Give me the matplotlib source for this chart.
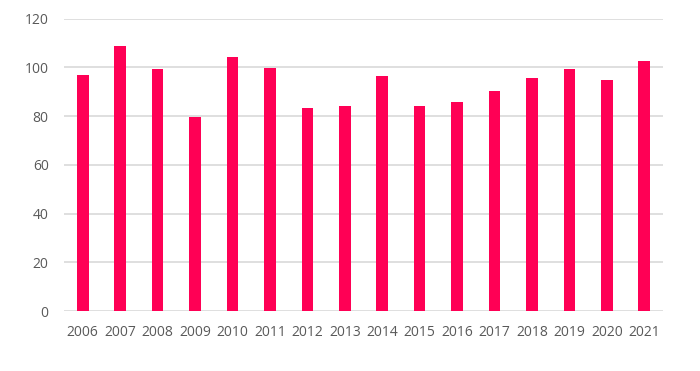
import matplotlib
matplotlib.use("Agg")
import matplotlib.pyplot as plt

years = ["2006", "2007", "2008", "2009", "2010", "2011", "2012", "2013",
         "2014", "2015", "2016", "2017", "2018", "2019", "2020", "2021"]
values = [97.0, 108.7, 99.4, 79.8, 104.2, 99.9, 83.4, 84.2,
          96.6, 84.2, 85.7, 90.5, 95.7, 99.3, 94.9, 102.8]
y_ticks = [0, 20, 40, 60, 80, 100, 120]

plt.rcParams["font.family"] = ["Open Sans", "DejaVu Sans"]

fig = plt.figure(figsize=(7, 3.71), dpi=100)
ax = fig.add_axes([0.0914, 0.1617, 0.8557, 0.7879])

x = range(len(years))
ax.bar(x, values, width=0.31, color="#FF0055", zorder=3)

ax.set_xlim(-0.5, len(years) - 0.5)
ax.set_ylim(0, 120)
ax.set_yticks(y_ticks)
ax.set_xticks(list(x))
ax.set_xticklabels(years)
ax.yaxis.grid(True, color="#D9D9D9", linewidth=1.2, zorder=0)
ax.set_axisbelow(True)
for s in ax.spines.values():
    s.set_visible(False)
ax.tick_params(axis="both", length=0, labelsize=10, colors="#595959")
ax.tick_params(axis="y", pad=11)
ax.tick_params(axis="x", pad=10)

fig.savefig("out.png", dpi=100)
